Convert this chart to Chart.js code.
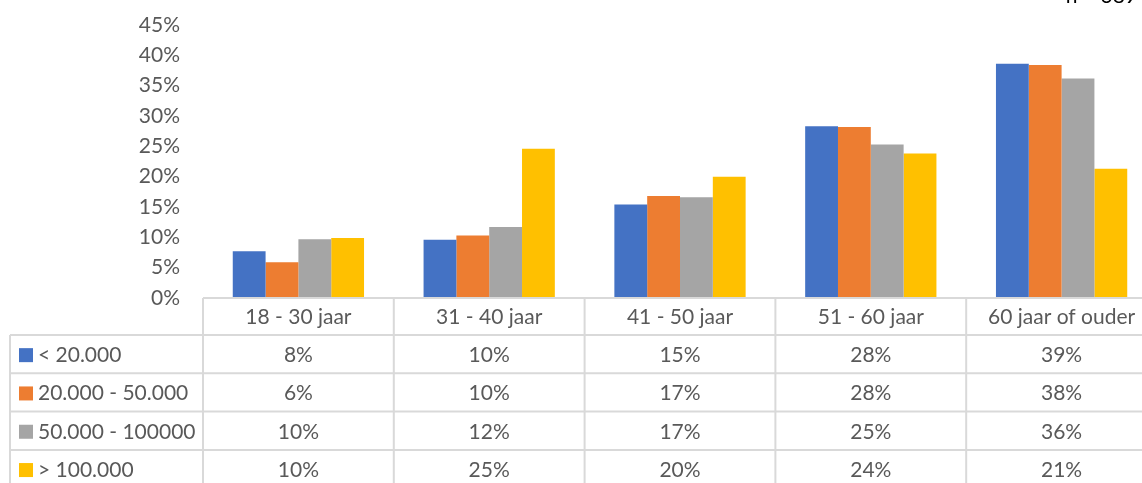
<!DOCTYPE html>
<html>
<head>
<meta charset="utf-8">
<script src="https://cdn.jsdelivr.net/npm/chart.js@4"></script>
<style>
  html, body { margin: 0; padding: 0; background: #fff; overflow: hidden; }
  #wrap { position: relative; width: 1157px; height: 483px; }
</style>
</head>
<body>
<div id="wrap"><canvas id="c" width="1157" height="483"></canvas></div>
<script>
const categories = ['18 - 30 jaar', '31 - 40 jaar', '41 - 50 jaar', '51 - 60 jaar', '60 jaar of ouder'];
const seriesNames = ['< 20.000', '20.000 - 50.000', '50.000 - 100000', '> 100.000'];
const seriesColors = ['#4472C4', '#ED7D31', '#A5A5A5', '#FFC000'];
const under20k = [7.7, 9.6, 15.4, 28.3, 38.6];
const from20to50k = [5.9, 10.3, 16.8, 28.2, 38.4];
const from50to100k = [9.7, 11.7, 16.6, 25.3, 36.2];
const over100k = [9.9, 24.6, 20.0, 23.8, 21.3];
const yTicks = [0, 5, 10, 15, 20, 25, 30, 35, 40, 45];
const noteText = 'n = 389';

const seriesValues = [under20k, from20to50k, from50to100k, over100k];
const FONT = 'Lato, "Open Sans", sans-serif';
const FSIZE = 21;
const TEXT = '#595959';
const GRID = '#D9D9D9';

const tablePlugin = {
  id: 'dataTable',
  afterDraw(chart) {
    const ctx = chart.ctx;
    const xs = chart.scales.x;
    const area = chart.chartArea;
    const top = area.bottom;
    const headerH = 37;
    const rowH = 38.3;
    const leftX = 10;
    const n = categories.length;
    const colW = (xs.right - xs.left) / n;
    const rows = seriesNames.length;
    const bottom = top + headerH + rowH * rows;
    ctx.save();
    ctx.strokeStyle = GRID;
    ctx.lineWidth = 2;
    ctx.beginPath();
    ctx.moveTo(xs.left, top); ctx.lineTo(xs.right, top);
    for (let r = 0; r < rows; r++) {
      const y = top + headerH + r * rowH;
      ctx.moveTo(leftX, y); ctx.lineTo(xs.right, y);
    }
    for (let i = 0; i <= n; i++) {
      const x = xs.left + i * colW;
      ctx.moveTo(x, top); ctx.lineTo(x, bottom);
    }
    ctx.moveTo(leftX, top + headerH); ctx.lineTo(leftX, bottom);
    ctx.stroke();

    ctx.font = FSIZE + 'px ' + FONT;
    ctx.fillStyle = TEXT;
    ctx.textBaseline = 'middle';
    ctx.textAlign = 'center';
    categories.forEach((c, i) => {
      ctx.fillText(xs.getLabelForValue(i), xs.getPixelForValue(i), top + headerH / 2 + 1);
    });
    seriesNames.forEach((name, r) => {
      const cy = top + headerH + r * rowH + rowH / 2 + 1;
      ctx.fillStyle = seriesColors[r];
      ctx.fillRect(19, cy - 7, 14, 14);
      ctx.fillStyle = TEXT;
      ctx.textAlign = 'left';
      ctx.fillText(name, 38, cy);
      ctx.textAlign = 'center';
      seriesValues[r].forEach((v, i) => {
        ctx.fillText(Math.round(v) + '%', xs.getPixelForValue(i), cy);
      });
    });
    ctx.fillStyle = '#000';
    ctx.textAlign = 'right';
    ctx.textBaseline = 'alphabetic';
    ctx.fillText(noteText, 1137, 3);
    ctx.restore();
  }
};

new Chart(document.getElementById('c'), {
  type: 'bar',
  data: {
    labels: categories,
    datasets: seriesNames.map((name, i) => ({
      label: name,
      data: seriesValues[i],
      backgroundColor: seriesColors[i],
      borderWidth: 0,
      categoryPercentage: 0.688,
      barPercentage: 1.0
    }))
  },
  options: {
    responsive: false,
    animation: false,
    devicePixelRatio: 1,
    layout: { padding: { top: 25, right: 0, left: 0, bottom: 0 } },
    plugins: { legend: { display: false }, tooltip: { enabled: false } },
    scales: {
      x: {
        grid: { display: false },
        border: { display: false },
        ticks: { display: false },
        afterFit(scale) { scale.height = 185; }
      },
      y: {
        min: 0,
        max: 45,
        afterBuildTicks(scale) { scale.ticks = yTicks.map(v => ({ value: v })); },
        grid: { display: false, drawTicks: false },
        border: { display: false },
        ticks: {
          padding: 23,
          color: TEXT,
          font: { family: FONT, size: FSIZE },
          callback: v => v + '%'
        },
        afterFit(scale) {
          scale.width = 203;
          scale.paddingTop = 0;
          scale.paddingBottom = 0;
        }
      }
    }
  },
  plugins: [tablePlugin]
});
</script>
</body>
</html>
